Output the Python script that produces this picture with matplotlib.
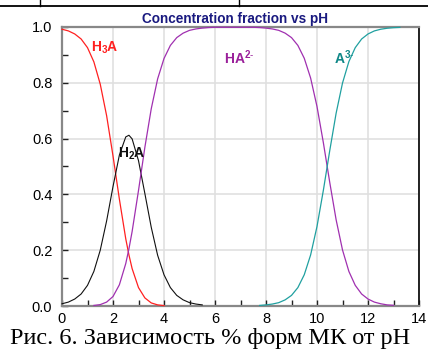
import numpy as np
import matplotlib.pyplot as plt
from matplotlib.ticker import MultipleLocator

plt.rcParams['font.family'] = ['Liberation Sans', 'DejaVu Sans']
plt.rcParams['mathtext.fontset'] = 'custom'
plt.rcParams['mathtext.bf'] = 'Liberation Sans:bold'
plt.rcParams['mathtext.rm'] = 'Liberation Sans'

# fractions
ph_h3a = [0, 0.25, 0.5, 0.75, 1.0, 1.25, 1.5, 1.75, 2.0, 2.25, 2.5, 2.625,
          2.75, 3.0, 3.25, 3.5, 3.75, 4.0]
h3a = [0.992, 0.986, 0.975, 0.957, 0.926, 0.875, 0.795, 0.682, 0.538, 0.383,
       0.241, 0.183, 0.134, 0.066, 0.029, 0.011, 0.004, 0.0014]

ph_h2a = [0, 0.25, 0.5, 0.75, 1.0, 1.25, 1.5, 1.75, 2.0, 2.25, 2.5, 2.625,
          2.75, 3.0, 3.25, 3.5, 3.75, 4.0, 4.25, 4.5, 4.75, 5.0, 5.25, 5.5]
h2a = [0.008, 0.014, 0.025, 0.043, 0.074, 0.124, 0.200, 0.305, 0.428, 0.541,
       0.606, 0.612, 0.599, 0.521, 0.403, 0.282, 0.182, 0.112, 0.066, 0.038,
       0.022, 0.012, 0.007, 0.004]

ph_ha = [1.25, 1.5, 1.75, 2.0, 2.25, 2.5, 2.625, 2.75, 3.0, 3.25, 3.5, 3.75,
         4.0, 4.25, 4.5, 4.75, 5.0, 5.25, 5.5, 5.75, 6.0, 6.5, 7.0, 7.5,
         7.75, 8.0, 8.25, 8.5, 8.75, 9.0, 9.25, 9.5, 9.75, 10.0, 10.25,
         10.5, 10.75, 11.0, 11.25, 11.5, 11.75, 12.0, 12.25, 12.5, 12.75,
         13.0]
ha = [0.002, 0.005, 0.014, 0.034, 0.076, 0.152, 0.205, 0.267, 0.414, 0.569,
      0.707, 0.814, 0.887, 0.934, 0.962, 0.978, 0.988, 0.993, 0.996, 0.998,
      0.999, 0.999, 0.999, 0.999, 0.998, 0.996, 0.993, 0.988, 0.978, 0.962,
      0.934, 0.888, 0.817, 0.715, 0.585, 0.443, 0.309, 0.201, 0.124, 0.074,
      0.043, 0.025, 0.014, 0.008, 0.004, 0.0025]

ph_a = [7.75, 8.0, 8.25, 8.5, 8.75, 9.0, 9.25, 9.5, 9.75, 10.0, 10.25, 10.5,
        10.75, 11.0, 11.25, 11.5, 11.75, 12.0, 12.25, 12.5, 12.75, 13.0, 13.25]
a3 = [0.002, 0.004, 0.007, 0.012, 0.022, 0.038, 0.066, 0.112, 0.183, 0.285,
      0.415, 0.557, 0.691, 0.799, 0.876, 0.926, 0.957, 0.975, 0.986, 0.992,
      0.9955, 0.9975, 0.9986]

fig = plt.figure(figsize=(4.28, 3.56), dpi=100)
ax = fig.add_axes([62 / 428, 1 - 306 / 356, 357 / 428, 279 / 356])

ax.plot(ph_h3a, h3a, color='#ff2020', lw=0.9, clip_on=False, zorder=3)
ax.plot(ph_h2a, h2a, color='#101010', lw=0.8, clip_on=False, zorder=3)
ax.plot(ph_ha, ha, color='#a030b0', lw=0.9, clip_on=False, zorder=3)
ax.plot(ph_a, a3, color='#20a0a0', lw=0.9, clip_on=False, zorder=3)

ax.set_xlim(0, 14)
ax.set_ylim(0, 1)
ax.xaxis.set_major_locator(MultipleLocator(2))
ax.xaxis.set_minor_locator(MultipleLocator(1))
ax.yaxis.set_major_locator(MultipleLocator(0.2))
ax.yaxis.set_minor_locator(MultipleLocator(0.1))
ax.yaxis.set_major_formatter(plt.FuncFormatter(lambda v, p: '%.1f' % v))
ax.grid(True, which='major', color='#e0e0e0', lw=1.2)
ax.set_axisbelow(True)
ax.tick_params(which='both', direction='in', length=4, width=1,
               color='#202020', labelsize=10.5, pad=4)
ax.tick_params(axis='y', pad=7)

for s in ['left', 'top', 'bottom']:
    ax.spines[s].set_color('#888888')
    ax.spines[s].set_linewidth(1.6)
ax.spines['right'].set_color('#111111')
ax.spines['right'].set_linewidth(1.3)

ax.set_title('Concentration fraction vs pH', fontsize=9.8, fontweight='bold',
             color='#1a1a80', pad=3, x=0.485)

ax.text(1.12, 0.925, r'$\mathbf{H_3A}$', color='#ff2020', fontsize=10, va='center')
ax.text(2.18, 0.545, r'$\mathbf{H_2A}$', color='#101010', fontsize=10, va='center')
ax.text(6.35, 0.89, r'$\mathbf{HA^{2\text{-}}}$', color='#9a209a', fontsize=10, va='center')
ax.text(10.65, 0.89, r'$\mathbf{A^{3\text{-}}}$', color='#108888', fontsize=10, va='center')

fig.text(10 / 428, 1 - 344 / 356, 'Рис. 6. Зависимость % форм МК от pH',
         fontsize=17.5, family='Liberation Serif', va='baseline', ha='left')

# table lines at the top of the page
fig.add_artist(plt.Line2D([0, 1], [1 - 6 / 356] * 2, color='black', lw=1.3))
fig.add_artist(plt.Line2D([40 / 428] * 2, [1 - 6 / 356, 1], color='black', lw=1))
fig.add_artist(plt.Line2D([239 / 428] * 2, [1 - 6 / 356, 1], color='black', lw=1))

fig.savefig('out.png', dpi=100)
